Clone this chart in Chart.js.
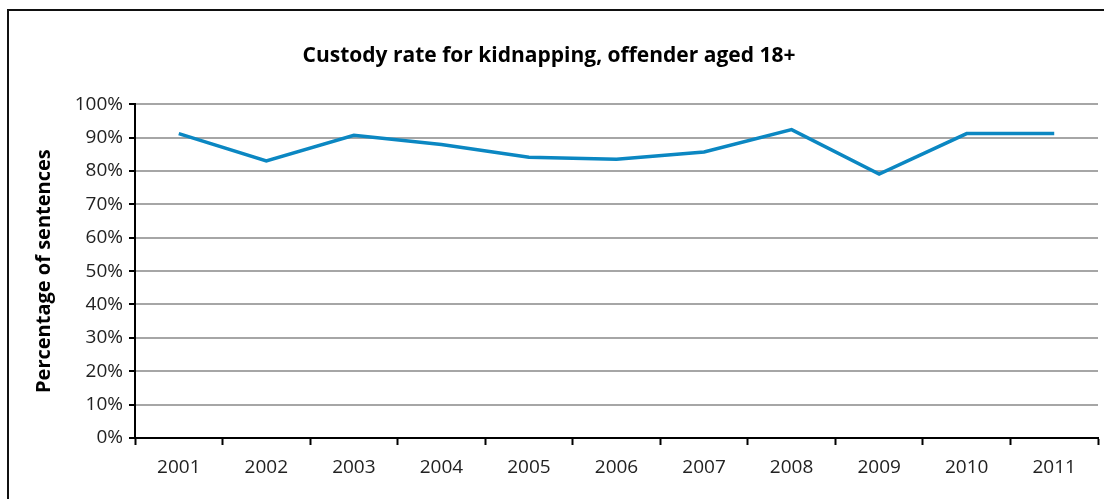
<!DOCTYPE html>
<html>
<head>
<meta charset="utf-8">
<script src="https://cdn.jsdelivr.net/npm/chart.js@4/dist/chart.umd.min.js"></script>
<style>
    body { margin: 0; background: #fff; }
    #wrap { position: relative; width: 1104px; height: 499px; overflow: hidden; }
    #frame {
        position: absolute; left: 7px; top: 9px; width: 1120px; height: 520px;
        border: 2px solid #111; box-sizing: border-box;
    }
    canvas { position: absolute; left: 0; top: 0; }
</style>
</head>
<body>
<div id="wrap">
    <div id="frame"></div>
    <canvas id="custodyChart" width="1104" height="499"></canvas>
</div>
<script>
const years = ["2001", "2002", "2003", "2004", "2005", "2006", "2007", "2008", "2009", "2010", "2011"];
const custodyRate = [91.2, 83.0, 90.7, 87.9, 84.1, 83.5, 85.7, 92.4, 79.1, 91.2, 91.2];
const chartTitle = "Custody rate for kidnapping, offender aged 18+";
const yAxisTitle = "Percentage of sentences";

const tickFont = { family: "'Open Sans', sans-serif", size: 19 };

new Chart(document.getElementById("custodyChart").getContext("2d"), {
    type: "line",
    data: {
        labels: years,
        datasets: [{
            label: "Custody rate",
            data: custodyRate,
            borderColor: "#0b87c2",
            borderWidth: 3.5,
            pointRadius: 0,
            tension: 0,
            fill: false
        }]
    },
    options: {
        responsive: false,
        animation: false,
        layout: { padding: { left: 0, right: 6, top: 0, bottom: 0 } },
        plugins: {
            legend: { display: false },
            tooltip: { enabled: false },
            title: {
                display: true,
                text: chartTitle,
                color: "#000",
                font: { family: "'Open Sans', sans-serif", size: 21, weight: "bold" },
                padding: { top: 43, bottom: 36 }
            }
        },
        scales: {
            x: {
                offset: true,
                grid: {
                    offset: true,
                    drawOnChartArea: false,
                    tickLength: 7,
                    tickColor: "#000",
                    tickWidth: 2
                },
                border: { color: "#000", width: 2 },
                ticks: { color: "#222", font: tickFont, padding: 11, maxRotation: 0 },
                afterFit: (scale) => { scale.height = 61; }
            },
            y: {
                min: 0,
                max: 100,
                ticks: {
                    stepSize: 10,
                    color: "#222",
                    font: tickFont,
                    padding: 6,
                    callback: (v) => v + "%"
                },
                grid: {
                    color: "#a6a6a6",
                    lineWidth: 2,
                    tickLength: 6,
                    tickColor: "#000",
                    tickWidth: 2
                },
                border: { color: "#000", width: 2 },
                title: {
                    display: true,
                    text: yAxisTitle,
                    color: "#000",
                    font: { family: "'Open Sans', sans-serif", size: 20, weight: "bold" },
                    padding: { top: 32, bottom: 0 }
                },
                afterFit: (scale) => { scale.width = 135; }
            }
        }
    }
});
</script>
</body>
</html>
